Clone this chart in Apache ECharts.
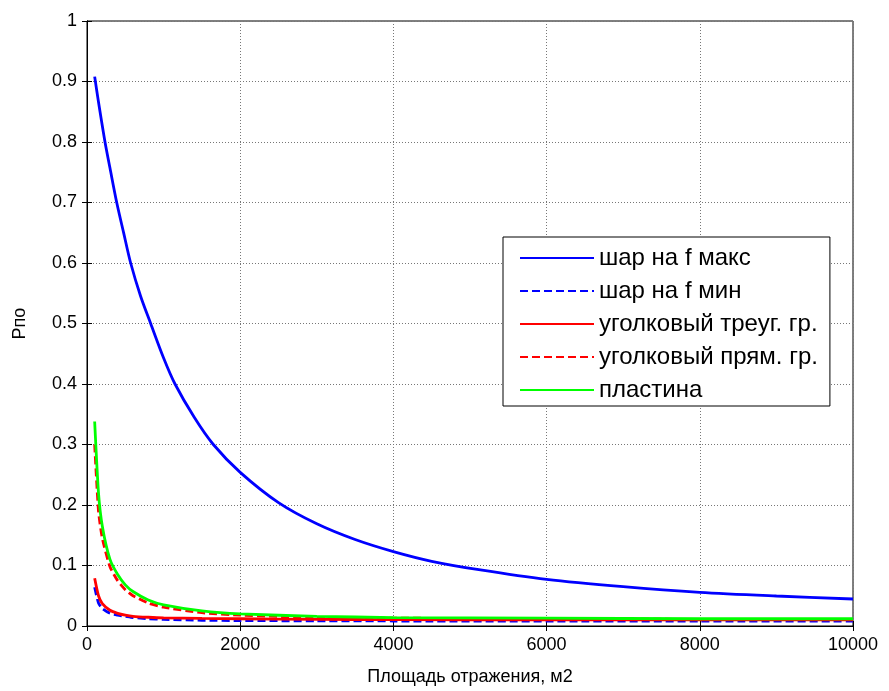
<!DOCTYPE html>
<html>
<head>
<meta charset="utf-8">
<script src="https://cdn.jsdelivr.net/npm/echarts@6/dist/echarts.min.js"></script>
<style>
  html, body { margin: 0; padding: 0; background: #fff; }
  #chart { width: 889px; height: 691px; }
</style>
</head>
<body>
<div id="chart"></div>
<script>
  // значения
  const sharMaxX = [100, 150, 235, 300, 388, 480, 570, 700, 831, 1000, 1149, 1400, 1649, 2000, 2500, 3000, 3500, 4000, 4500, 5137, 6000, 7000, 8000, 9000, 10000]
  const sharMaxY = [0.908, 0.866, 0.8, 0.757, 0.7, 0.649, 0.6, 0.545, 0.5, 0.443, 0.4, 0.345, 0.3, 0.254, 0.204, 0.169, 0.143, 0.123, 0.107, 0.0926, 0.077, 0.065, 0.0557, 0.0496, 0.0446]

  const smallX = [100, 150, 200, 300, 400, 500, 600, 800, 1000, 1500, 2000, 3000, 4000, 6000, 8000, 10000]
  const sharMinY = [0.064, 0.038, 0.029, 0.021, 0.018, 0.016, 0.014, 0.012, 0.011, 0.0095, 0.009, 0.0085, 0.0083, 0.008, 0.008, 0.008]
  const treugY   = [0.079, 0.050, 0.037, 0.026, 0.021, 0.018, 0.016, 0.0145, 0.0135, 0.0125, 0.012, 0.011, 0.0105, 0.0102, 0.010, 0.010]
  const pryamY   = [0.300, 0.190, 0.145, 0.098, 0.075, 0.060, 0.050, 0.038, 0.031, 0.022, 0.018, 0.014, 0.013, 0.012, 0.011, 0.011]
  const plastY   = [0.338, 0.220, 0.165, 0.110, 0.085, 0.068, 0.057, 0.043, 0.035, 0.025, 0.020, 0.016, 0.014, 0.013, 0.012, 0.012]

  const xTicks = [0, 2000, 4000, 6000, 8000, 10000]
  const yTicks = [0, 0.1, 0.2, 0.3, 0.4, 0.5, 0.6, 0.7, 0.8, 0.9, 1]

  const zip = (xs, ys)=> xs.map((x, i)=> [x, ys[i]])

  const font = 'Liberation Sans, Arial, sans-serif'
  const mychart = echarts.init(document.getElementById('chart'), null, { renderer: 'canvas' })

  const mkSeries = (name, xs, ys, color, type, smooth)=> ({
    name: name,
    type: 'line',
    data: zip(xs, ys),
    symbol: 'none',
    smooth: smooth,
    lineStyle: { color: color, width: 2.8, type: type },
    itemStyle: { color: color },
    animation: false
  })

  const axisCommon = {
    axisLine: { show: true, lineStyle: { color: '#000', width: 1 } },
    axisTick: { show: true, inside: true, length: 5, lineStyle: { color: '#000' } },
  }

  const option = {
    backgroundColor: '#fff',
    animation: false,
    grid: { left: 87, right: 36, top: 21, bottom: 65, show: true, borderColor: '#000', borderWidth: 1 },
    legend: {
      orient: 'vertical',
      left: 503,
      top: 237,
      padding: [9, 12, 4, 16],
      itemWidth: 74,
      itemHeight: 14,
      itemGap: 9,
      itemStyle: { opacity: 0 },
      backgroundColor: '#fff',
      borderColor: '#000',
      borderWidth: 1,
      borderRadius: 0,
      textStyle: { fontFamily: font, fontSize: 24, color: '#000' },
      data: ['шар на f макс', 'шар на f мин', 'уголковый треуг. гр.', 'уголковый прям. гр.', 'пластина']
    },
    xAxis: [
      Object.assign({}, axisCommon, {
        type: 'value',
        min: 0, max: 10000, interval: 2000,
        name: 'Площадь отражения, м2',
        nameLocation: 'middle',
        nameGap: 42,
        nameTextStyle: { fontFamily: font, fontSize: 18, color: '#000' },
        axisLabel: { fontFamily: font, fontSize: 18, color: '#000', margin: 10,
          formatter: (v)=> xTicks.includes(v) ? String(v) : '' },
        splitLine: { show: true, lineStyle: { color: '#777', type: [1, 2], width: 1 } }
      }),
      Object.assign({}, axisCommon, {
        type: 'value', position: 'top',
        min: 0, max: 10000, interval: 2000,
        axisLabel: { show: false },
        splitLine: { show: false }
      })
    ],
    yAxis: [
      Object.assign({}, axisCommon, {
        type: 'value',
        min: 0, max: 1, interval: 0.1,
        name: 'Pпо',
        nameLocation: 'middle',
        nameGap: 58,
        nameTextStyle: { fontFamily: font, fontSize: 18, color: '#000' },
        axisLabel: { fontFamily: font, fontSize: 18, color: '#000', margin: 10,
          formatter: (v)=> {
            const r = Math.round(v * 10) / 10
            return yTicks.includes(r) ? String(r) : ''
          } },
        splitLine: { show: true, lineStyle: { color: '#777', type: [1, 2], width: 1 } }
      }),
      Object.assign({}, axisCommon, {
        type: 'value', position: 'right',
        min: 0, max: 1, interval: 0.1,
        axisLabel: { show: false },
        splitLine: { show: false }
      })
    ],
    series: [
      mkSeries('шар на f макс', sharMaxX, sharMaxY, '#0000ff', 'solid', 0.3),
      mkSeries('шар на f мин', smallX, sharMinY, '#0000ff', [8, 4], 0.2),
      mkSeries('уголковый треуг. гр.', smallX, treugY, '#ff0000', 'solid', 0.2),
      mkSeries('уголковый прям. гр.', smallX, pryamY, '#ff0000', [8, 4], 0.2),
      mkSeries('пластина', smallX, plastY, '#00ff00', 'solid', 0.2)
    ]
  }
  mychart.setOption(option)
</script>
</body>
</html>
